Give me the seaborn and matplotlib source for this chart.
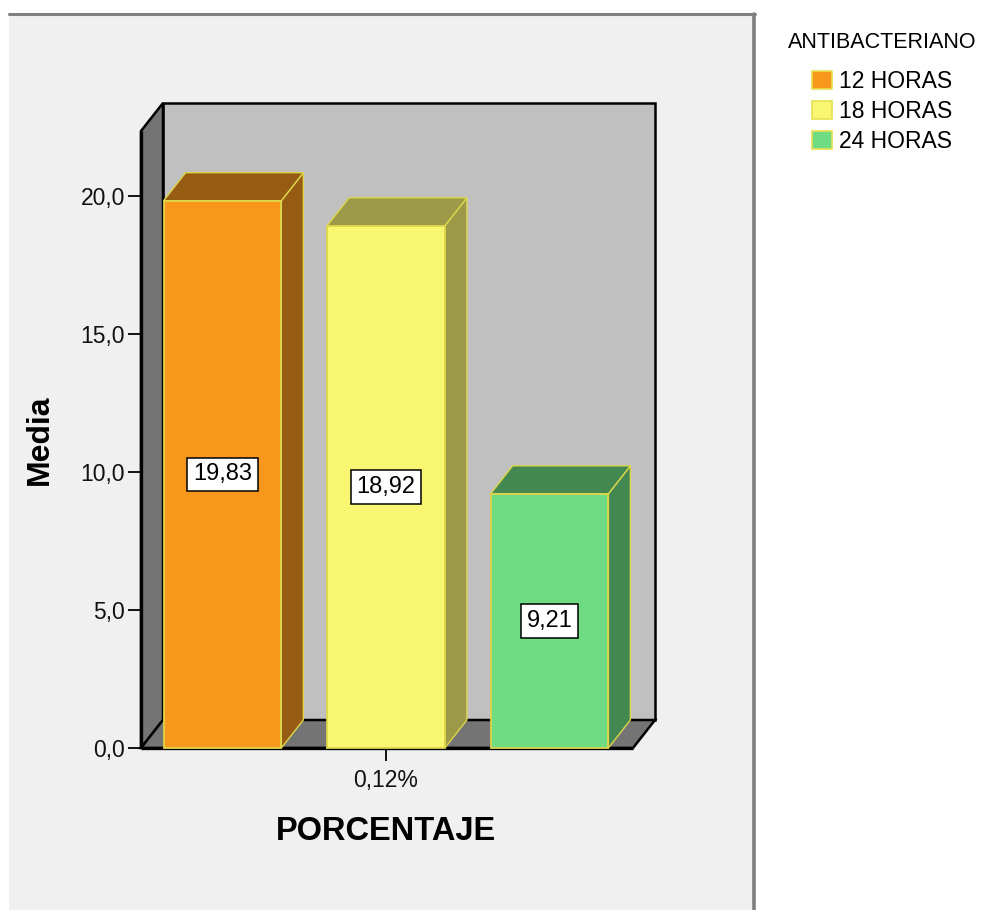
import numpy as np
import pandas as pd
import matplotlib
matplotlib.use("Agg")
import matplotlib.pyplot as plt
import seaborn as sns
from matplotlib.patches import Polygon, Rectangle, Patch
from matplotlib.lines import Line2D

# ---- data ----
categorias = ["0,12%"]
grupos = ["12 HORAS", "18 HORAS", "24 HORAS"]
medias = [19.83, 18.92, 9.21]
etiquetas = ["19,83", "18,92", "9,21"]
yticks = [0, 5, 10, 15, 20]
ytick_labels = ["0,0", "5,0", "10,0", "15,0", "20,0"]

colores_frente = ["#f7981d", "#f9f671", "#6fdc84"]
colores_lado = ["#975c13", "#9c9a48", "#438850"]
borde_barra = "#ddd54a"

sns.set_style("white")
plt.rcParams["font.family"] = ["Liberation Sans", "DejaVu Sans"]
plt.rcParams["text.color"] = "black"
plt.rcParams["axes.labelcolor"] = "black"

W, H = 985, 910
fig = plt.figure(figsize=(W / 100, H / 100), dpi=100, facecolor="white")


def fx(px):
    return px / W


def fy(py):
    return 1 - py / H


# outer panel
fig.patches.append(Rectangle((fx(9), 0), fx(753) - fx(9), fy(14), transform=fig.transFigure,
                             facecolor="#f0f0f0", edgecolor="none", zorder=-10))
fig.lines.append(Line2D([fx(9), fx(755)], [fy(14), fy(14)], transform=fig.transFigure,
                        color="#808080", lw=2.2, zorder=-9))
fig.lines.append(Line2D([fx(753.5), fx(753.5)], [fy(14), 0], transform=fig.transFigure,
                        color="#808080", lw=2.6, zorder=-9))

ax = fig.add_axes([fx(141), fy(748), fx(633) - fx(141), fy(131) - fy(748)])
ax.set_facecolor("none")
ax.set_zorder(1)

df = pd.DataFrame({"PORCENTAJE": categorias * len(grupos),
                   "ANTIBACTERIANO": grupos,
                   "Media": medias})
sns.barplot(data=df, x="PORCENTAJE", y="Media", hue="ANTIBACTERIANO", hue_order=grupos,
            palette=colores_frente, saturation=1, width=0.9, gap=0.28, errorbar=None,
            edgecolor=borde_barra, linewidth=1.3, ax=ax, legend=False)

ax.set_xlim(-0.4495, 0.4532)
ax.set_ylim(0, (748 - 131) / 27.6)
for s in ax.spines.values():
    s.set_visible(False)

# depth offset (pixels -> data)
inv = ax.transData.inverted()
o = ax.transData.transform((0, 0))
p = inv.transform((o[0] + 22, o[1] + 28))
dx, dy = p[0], p[1]

xl, xr = ax.get_xlim()
yt = ax.get_ylim()[1]

ax.add_patch(Rectangle((xl + dx, dy), xr - xl, yt, facecolor="#c0c0c0", edgecolor="black",
                       lw=1.8, zorder=0.5, clip_on=False))
ax.add_patch(Polygon([(xl, 0), (xl + dx, dy), (xl + dx, yt + dy), (xl, yt)], closed=True,
                     facecolor="#747474", edgecolor="black", lw=1.8, zorder=1, clip_on=False))
ax.add_patch(Polygon([(xl, 0), (xr, 0), (xr + dx, dy), (xl + dx, dy)], closed=True,
                     facecolor="#747474", edgecolor="black", lw=1.8, zorder=1, clip_on=False))
ax.plot([xl, xr], [0, 0], color="black", lw=2.4, zorder=1.2, clip_on=False, solid_capstyle="butt")
ax.plot([xl, xl], [0, yt], color="black", lw=2.4, zorder=1.2, clip_on=False, solid_capstyle="butt")

bars = [b for c in ax.containers for b in c]
for b, lado, txt in zip(bars, colores_lado, etiquetas):
    b.set_zorder(4)
    b.set_clip_on(False)
    x0 = b.get_x()
    x1 = x0 + b.get_width()
    h = b.get_height()
    ax.add_patch(Polygon([(x1, 0), (x1 + dx, dy), (x1 + dx, h + dy), (x1, h)], closed=True,
                         facecolor=lado, edgecolor=borde_barra, lw=1.0, zorder=3, clip_on=False))
    ax.add_patch(Polygon([(x0, h), (x1, h), (x1 + dx, h + dy), (x0 + dx, h + dy)], closed=True,
                         facecolor=lado, edgecolor=borde_barra, lw=1.0, zorder=3, clip_on=False))
    ax.text((x0 + x1) / 2, h / 2, txt, ha="center", va="center", fontsize=17, zorder=6,
            bbox=dict(boxstyle="square,pad=0.24", facecolor="white", edgecolor="black", lw=1.1))

ax.set_yticks(yticks)
ax.set_yticklabels(ytick_labels)
ax.tick_params(axis="y", left=True, direction="out", length=9.5, width=1.3, color="black",
               labelsize=16.5, pad=2, labelcolor="#111111")
ax.tick_params(axis="x", bottom=True, direction="out", length=9, width=1.3, color="black",
               labelsize=16.5, pad=6, labelcolor="#111111")

ax.set_xlabel("PORCENTAJE", fontsize=23.5, fontweight="bold")
ax.xaxis.set_label_coords((386 - 141) / 492, (748 - 832) / 617)
ax.xaxis.label.set_va("center")
ax.set_ylabel("Media", fontsize=23, fontweight="bold")
ax.yaxis.set_label_coords((40 - 141) / 492, (748 - 440) / 617)
ax.yaxis.label.set_va("center")

fig.text(fx(882), fy(42), "ANTIBACTERIANO", ha="center", va="center", fontsize=15.5)
handles = [Patch(facecolor=c, edgecolor="#e6e050", lw=1.2) for c in colores_frente]
fig.legend(handles, grupos, loc="upper center",
           bbox_to_anchor=(fx(882), fy(70)), frameon=False, fontsize=16.5,
           handlelength=0.87, handleheight=0.87, handletextpad=0.28, labelspacing=0.3,
           borderpad=0, borderaxespad=0)

fig.savefig("out.png", dpi=100, facecolor="white")
